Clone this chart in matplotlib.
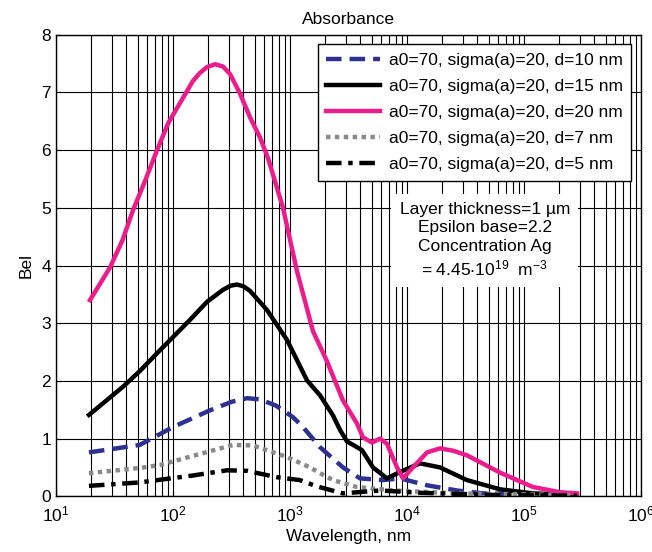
import matplotlib as mpl
import matplotlib.pyplot as plt

mpl.use('agg')

plt.rcParams['font.family'] = ['Liberation Sans', 'DejaVu Sans']
plt.rcParams['mathtext.fontset'] = 'custom'
plt.rcParams['mathtext.rm'] = 'Liberation Sans'
plt.rcParams['mathtext.it'] = 'Liberation Sans'
plt.rcParams['mathtext.default'] = 'regular'

# wavelength (nm) / absorbance (Bel)
wl_d20 = [19.5, 29, 37, 45.5, 58, 73, 91, 115, 148, 170, 195, 229, 267, 307, 374, 455, 554, 649,
          871, 1148, 1573, 2070, 2837, 3738, 4207, 5025, 5875, 6741, 8225, 9247, 11250,
          14840, 19150, 24720, 32560, 62400, 119400, 203200, 283700]
ab_d20 = [3.4, 3.97, 4.44, 4.96, 5.48, 6.0, 6.47, 6.82, 7.2, 7.34, 7.44, 7.49, 7.45, 7.32, 6.98,
          6.57, 6.22, 5.86, 5.0, 3.9, 2.86, 2.34, 1.66, 1.26, 1.02, 0.93, 1.0, 0.91, 0.5, 0.31,
          0.5, 0.76, 0.83, 0.79, 0.71, 0.41, 0.16, 0.07, 0.05]

wl_d15 = [19.1, 37.4, 52, 73, 100, 140, 195, 268, 310, 352, 400, 455, 635, 942, 1396, 1805,
          2333, 2676, 3069, 3597, 4121, 5120, 6741, 8715, 12900, 19150, 32560, 62400, 119400,
          283700]
ab_d15 = [1.41, 1.9, 2.17, 2.48, 2.76, 3.06, 3.37, 3.58, 3.65, 3.67, 3.64, 3.56, 3.23, 2.71,
          2.01, 1.75, 1.4, 1.15, 0.95, 0.87, 0.8, 0.5, 0.31, 0.42, 0.57, 0.5, 0.28, 0.12, 0.05,
          0.02]

wl_d10 = [19.1, 52, 100, 207, 320, 429, 554, 760, 1061, 1291, 1805, 2837, 3964, 6234, 8715,
          14840, 26750, 44650, 283700]
ab_d10 = [0.76, 0.89, 1.2, 1.49, 1.64, 1.7, 1.68, 1.57, 1.37, 1.2, 0.85, 0.5, 0.31, 0.28, 0.31,
          0.19, 0.1, 0.05, 0.02]

wl_d7 = [19.1, 52, 77, 148, 326, 483, 942, 1483, 1805, 2333, 3738, 7592, 26750, 283700]
ab_d7 = [0.4, 0.49, 0.54, 0.7, 0.89, 0.88, 0.68, 0.5, 0.4, 0.28, 0.16, 0.1, 0.05, 0.02]

wl_d5 = [19.1, 52, 148, 290, 429, 774, 1217, 1703, 2837, 5875, 12900, 62400, 283700]
ab_d5 = [0.18, 0.24, 0.36, 0.45, 0.44, 0.33, 0.28, 0.17, 0.05, 0.1, 0.06, 0.02, 0.01]

labels = ['a0=70, sigma(a)=20, d=10 nm', 'a0=70, sigma(a)=20, d=15 nm',
          'a0=70, sigma(a)=20, d=20 nm', 'a0=70, sigma(a)=20, d=7 nm',
          'a0=70, sigma(a)=20, d=5 nm']

fig = plt.figure(figsize=(6.52, 5.52), dpi=100)
ax = fig.add_axes([0.086, 0.101, 0.897, 0.836])

lw = 3.2
ax.plot(wl_d10, ab_d10, color='#2e3192', lw=lw, dashes=(3.5, 1.8), label=labels[0])
ax.plot(wl_d15, ab_d15, color='black', lw=lw, label=labels[1])
ax.plot(wl_d20, ab_d20, color='#ec1c8c', lw=lw, label=labels[2])
ax.plot(wl_d7, ab_d7, color='#8a8a8a', lw=lw, dashes=(1.0, 1.0), label=labels[3])
ax.plot(wl_d5, ab_d5, color='black', lw=lw, dashes=(3.5, 1.5, 1.0, 1.5), label=labels[4])

ax.set_xscale('log')
ax.set_xlim(10, 1e6)
ax.set_ylim(0, 8)
ax.set_yticks(range(0, 9))
ax.grid(True, which='both', axis='x', color='black', lw=0.8)
ax.grid(True, which='major', axis='y', color='black', lw=0.8)
ax.tick_params(which='both', direction='in', labelsize=12.5)
ax.tick_params(axis='x', pad=6)
for s in ax.spines.values():
    s.set_linewidth(1.0)

ax.set_title('Absorbance', fontsize=12.5, pad=8)
ax.set_xlabel('Wavelength, nm', fontsize=12.5, labelpad=3)
ax.set_ylabel('Bel', fontsize=12.5, labelpad=6)

leg = ax.legend(loc='upper right', fontsize=12.5, handlelength=3.1, handletextpad=0.5,
                fancybox=False, framealpha=1, edgecolor='black', borderaxespad=0.55,
                labelspacing=0.62, borderpad=0.5)
leg.get_frame().set_linewidth(1.0)

ax.text(0.733, 0.555,
        'Layer thickness=1 µm\nEpsilon base=2.2\nConcentration Ag\n'
        r'= 4.45$\cdot$10$^{19}$  m$^{-3}$',
        transform=ax.transAxes, ha='center', va='center', fontsize=12.5, linespacing=1.28,
        bbox=dict(facecolor='white', edgecolor='none', pad=6))

fig.savefig('out.png', dpi=100)
